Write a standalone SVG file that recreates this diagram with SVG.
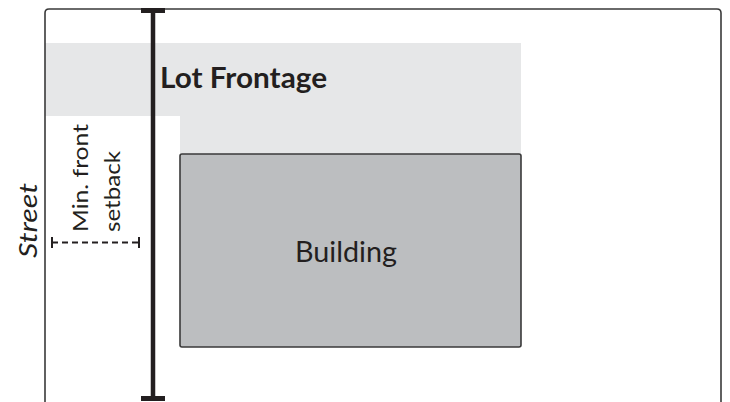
<svg xmlns="http://www.w3.org/2000/svg" width="730" height="402" viewBox="0 0 730 402">
<style>
.lot{fill:none;stroke:#3a3a3a;stroke-width:1.6;stroke-linejoin:round}
.lbl{font-family:Lato,"Open Sans","Liberation Sans",sans-serif;fill:#231f20}
.bar{stroke:#231f20;stroke-width:4.5;fill:none}
.dim{stroke:#231f20;stroke-width:2;fill:none}
</style>
<rect width="730" height="402" fill="#ffffff"/>
<g id="frontyard">
<path d="M45,43 H521 V154 H180 V116 H45 Z" fill="#e6e7e8"/>
</g>
<g id="lot">
<path class="lot" d="M45,402 V13 Q45,9 49,9 H717 Q721,9 721,13 V402"/>
</g>
<g id="building">
<rect x="180" y="154" width="341" height="193" rx="2" fill="#bcbec0" stroke="#3a3a3a" stroke-width="1.6"/>
<text class="lbl" x="346" y="262" font-size="28" text-anchor="middle" textLength="102" lengthAdjust="spacingAndGlyphs">Building</text>
</g>
<g id="lot-frontage">
<text class="lbl" x="160" y="88" font-size="28" font-weight="bold" textLength="167" lengthAdjust="spacingAndGlyphs">Lot Frontage</text>
</g>
<g id="street">
<text class="lbl" transform="translate(37,258) rotate(-90)" font-size="26" font-style="italic" textLength="75" lengthAdjust="spacingAndGlyphs">Street</text>
</g>
<g id="setback">
<text class="lbl" transform="translate(88,232) rotate(-90)" font-size="22" textLength="108" lengthAdjust="spacingAndGlyphs">Min. front</text>
<text class="lbl" transform="translate(120,232) rotate(-90)" font-size="22" textLength="81" lengthAdjust="spacingAndGlyphs">setback</text>
</g>
<g id="connectors">
<line class="bar" x1="153" y1="10" x2="153" y2="398"/>
<line x1="141" y1="10.5" x2="165" y2="10.5" stroke="#231f20" stroke-width="5"/>
<line x1="141" y1="398.5" x2="165" y2="398.5" stroke="#231f20" stroke-width="5"/>
<line class="dim" x1="52" y1="242.5" x2="139" y2="242.5" stroke-dasharray="6,4"/>
<line class="dim" x1="52" y1="237" x2="52" y2="248"/>
<line class="dim" x1="139" y1="237" x2="139" y2="248"/>
</g>
</svg>
